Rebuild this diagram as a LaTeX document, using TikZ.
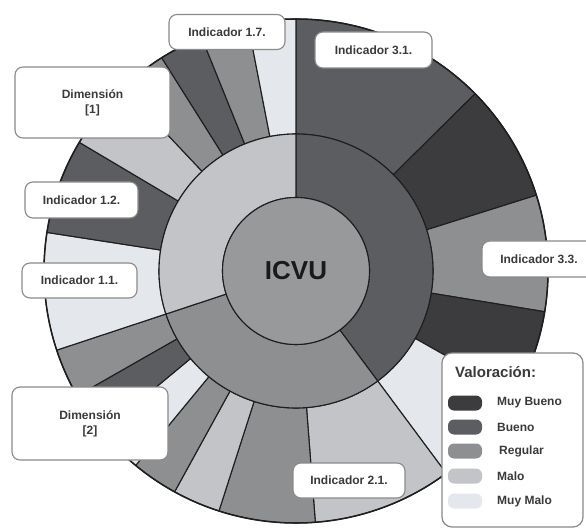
\documentclass[tikz,border=0pt]{standalone}
\usepackage{fontspec}
\setmainfont{Liberation Sans}
\definecolor{cMB}{HTML}{3C3C3E}
\definecolor{cB}{HTML}{5C5D60}
\definecolor{cR}{HTML}{8E8F91}
\definecolor{cM}{HTML}{C2C4C7}
\definecolor{cMM}{HTML}{E4E7EB}
\definecolor{cCore}{HTML}{98999B}
\definecolor{segline}{HTML}{1E1E1E}
\definecolor{boxline}{HTML}{8A8A8A}
\definecolor{txt}{HTML}{3A3A3A}
\definecolor{txtdark}{HTML}{1A1A1A}
% one annular sector: inner radius, outer radius, start angle, end angle, fill
\newcommand\wedgeseg[5]{%
  \draw[seg, fill=#5] (#3:#1pt) -- (#3:#2pt)
    arc[start angle=#3, end angle=#4, radius=#2pt]
    -- (#4:#1pt) arc[start angle=#4, end angle=#3, radius=#1pt] -- cycle;}
\begin{document}
\begin{tikzpicture}[x=1pt,y=1pt,
  seg/.style={draw=segline, line width=1.1pt, line join=round},
  lbl/.style={draw=boxline, line width=1.1pt, fill=white, rounded corners=8pt,
    font=\bfseries\fontsize{12}{15}\selectfont, text=txt, align=center, inner sep=0pt},
  swatch/.style={rounded corners=6pt, minimum width=34pt, minimum height=15pt, inner sep=0pt},
  legtxt/.style={anchor=west, font=\bfseries\fontsize{12}{14}\selectfont, text=txt, inner sep=0pt}]
\useasboundingbox (0,0) rectangle (586,528);
\fill[white] (0,0) rectangle (586,528);
\clip (0,0) rectangle (586,528);

\begin{scope}[shift={(296,257)}]
  % outer ring: indicators
  \foreach \a/\b/\c in {90/44.7/cB, 44.7/17.5/cMB, 17.5/-9.3/cR, -9.3/-29.5/cMB,
      -29.5/-53.4/cMM, -53.4/-85.6/cM, -85.6/-107.8/cR, -107.8/-118.8/cM,
      -118.8/-129.5/cR, -129.5/-140.3/cMM, -140.3/-150.3/cB, -150.3/-161.7/cR,
      198.3/171.2/cMM, 171.2/149.3/cB, 149.3/133.3/cM, 133.3/122.2/cR,
      122.2/112/cB, 112/101/cR, 101/90/cMM}
    {\wedgeseg{137}{252}{\a}{\b}{\c}}
  % middle ring: dimensions
  \wedgeseg{73.5}{137}{90}{-53.4}{cB}
  \wedgeseg{73.5}{137}{-53.4}{-161.7}{cR}
  \wedgeseg{73.5}{137}{198.3}{90}{cM}
  \draw[segline, line width=1.5pt] (0,0) circle[radius=252pt];
  \node[circle, draw=segline, line width=1.1pt, fill=cCore, minimum size=147pt,
    inner sep=0pt, font=\bfseries\fontsize{26}{30}\selectfont, text=txtdark] (icvu) at (0,0) {ICVU};
\end{scope}

% labels
\node[lbl, minimum width=116pt, minimum height=35pt] (i17) at (227,496) {Indicador 1.7.};
\node[lbl, minimum width=155pt, minimum height=71pt] (dim1) at (92.5,425.5) {Dimensión\\{}[1]};
\node[lbl, minimum width=113pt, minimum height=36pt] (i12) at (81.5,328) {Indicador 1.2.};
\node[lbl, minimum width=115pt, minimum height=35pt] (i11) at (79.5,247.5) {Indicador 1.1.};
\node[lbl, minimum width=156pt, minimum height=73pt] (dim2) at (90,104.5) {Dimensión\\{}[2]};
\node[lbl, minimum width=112pt, minimum height=35pt] (i21) at (349,47.5) {Indicador 2.1.};
\node[lbl, minimum width=117pt, minimum height=36pt] (i31) at (373.5,478) {Indicador 3.1.};
\node[lbl, minimum width=114pt, minimum height=36pt] (i33) at (539,269) {Indicador 3.3.};

% legend
\node[draw=boxline, line width=1.2pt, fill=white, rounded corners=10pt,
  minimum width=141pt, minimum height=174pt, inner sep=0pt] (legend) at (512.5,88) {};
\node[anchor=west, inner sep=0pt, text=txt,
  font=\bfseries\fontsize{15}{18}\selectfont] (legtitle) at (455,156) {Valoración:};
\node[swatch, fill=cMB] (swMB) at (465,125) {};
\node[legtxt] (tMB) at (497,125) {Muy Bueno};
\node[swatch, fill=cB] (swB) at (465,101) {};
\node[legtxt] (tB) at (497,101) {Bueno};
\node[swatch, fill=cR] (swR) at (465,77) {};
\node[legtxt] (tR) at (499,77) {Regular};
\node[swatch, fill=cM] (swM) at (465,52) {};
\node[legtxt] (tM) at (497,52) {Malo};
\node[swatch, fill=cMM] (swMM) at (465,27) {};
\node[legtxt] (tMM) at (497,27) {Muy Malo};
\end{tikzpicture}
\end{document}
